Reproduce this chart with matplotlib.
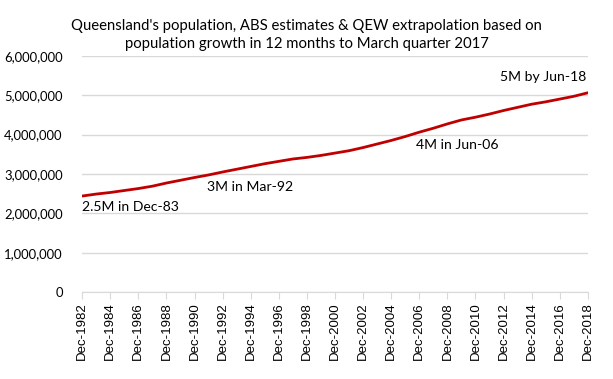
import numpy as np
import matplotlib.pyplot as plt
from matplotlib.ticker import FuncFormatter

# Queensland population (thousands), December of each year, Dec-1982 .. Dec-2018
years = list(range(1982, 2019))
pop_k = [2440, 2490, 2530, 2580, 2630, 2690, 2770, 2840, 2910, 2975,
         3050, 3120, 3190, 3260, 3320, 3380, 3420, 3470, 3530, 3590,
         3670, 3760, 3850, 3950, 4060, 4160, 4270, 4370, 4440, 4520,
         4610, 4690, 4770, 4830, 4900, 4970, 5060]
tick_years = list(range(1982, 2019, 2))
tick_labels = ['Dec-%d' % y for y in tick_years]
y_ticks = [0, 1000000, 2000000, 3000000, 4000000, 5000000, 6000000]

title = ("Queensland's population, ABS estimates & QEW extrapolation based on\n"
         "population growth in 12 months to March quarter 2017")

plt.rcParams['font.family'] = ['Lato', 'DejaVu Sans']

fig = plt.figure(figsize=(6.13, 3.79), dpi=100)
ax = fig.add_axes([0.134, 0.229, 0.825, 0.624])

x = np.array(years) - 1982
y = np.array(pop_k) * 1000
ax.plot(x, y, color='#c00000', lw=2, solid_capstyle='round')

ax.set_xlim(0, 36)
ax.set_ylim(0, 6000000)
ax.set_yticks(y_ticks)
ax.yaxis.set_major_formatter(FuncFormatter(lambda v, p: '{:,.0f}'.format(v)))
ax.set_xticks(np.array(tick_years) - 1982)
ax.set_xticklabels(tick_labels, rotation=90, family='Liberation Sans', fontsize=9.5)
ax.tick_params(axis='y', length=0, labelsize=9.4, pad=14)
ax.tick_params(axis='x', length=5, color='#d9d9d9', pad=2)
ax.grid(axis='y', color='#d9d9d9', lw=1)
ax.set_axisbelow(True)
for s in ['top', 'right', 'left']:
    ax.spines[s].set_visible(False)
ax.spines['bottom'].set_color('#d9d9d9')

# annotations
ax.text(0, 2170000, '2.5M in Dec-83', fontsize=10.1, va='center', ha='left')
ax.text(8.87, 2660000, '3M in Mar-92', fontsize=10.1, va='center', ha='left')
ax.text(23.8, 3730000, '4M in Jun-06', fontsize=10.1, va='center', ha='left')
ax.text(35.87, 5460000, '5M by Jun-18', fontsize=10.1, va='center', ha='right')

fig.text(0.5, 0.908, title, ha='center', va='center', fontsize=10.7, linespacing=1.35)

fig.savefig('out.png', dpi=100)
